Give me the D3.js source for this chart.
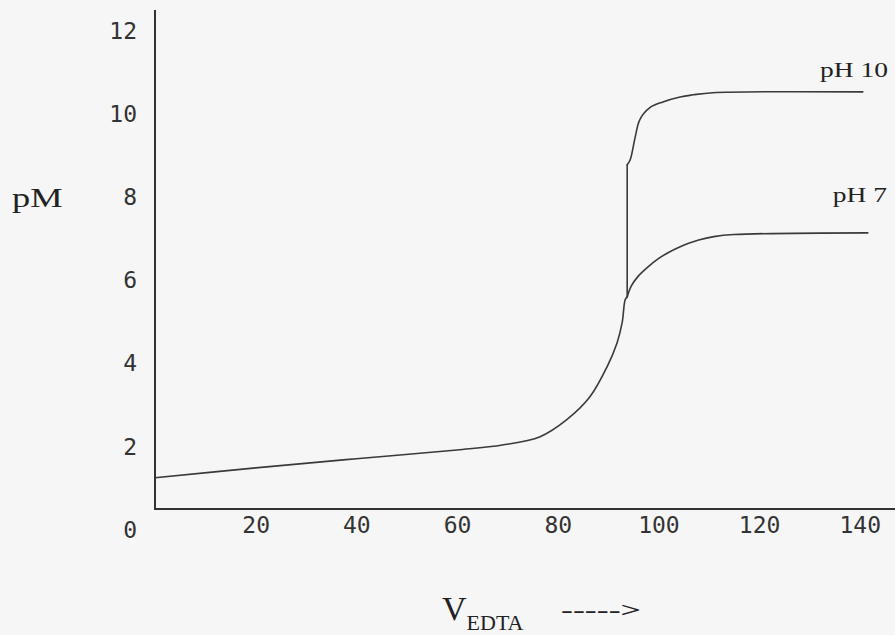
<!DOCTYPE html>
<html>
<head>
<meta charset="utf-8">
<script src="https://cdn.jsdelivr.net/npm/d3@7"></script>
<style>
  body { margin: 0; background: #f6f6f6; }
  svg { display: block; }
</style>
</head>
<body>
<div id="chart"></div>
<script>
const width = 895;
const height = 635;

// Titration curve data (V_EDTA, pM)
const vCommon = [0, 20, 40, 60, 69, 76.5, 81.8, 86.4, 89.8, 91.8, 92.8, 93.4, 93.8];
const pmCommon = [1.25, 1.49, 1.71, 1.92, 2.04, 2.24, 2.65, 3.2, 3.92, 4.5, 4.98, 5.53, 5.6];

// Jump at the equivalence point (pH 10 only)
const vJump = [93.8, 93.8];
const pmJump = [5.6, 8.78];

const vPh10 = [93.8, 94.4, 95.4, 96.3, 98.3, 100.9, 104.3, 106.9, 110.8, 140.6];
const pmPh10 = [8.78, 8.9, 9.45, 9.86, 10.15, 10.29, 10.41, 10.46, 10.51, 10.53];

const vPh7 = [93.8, 94.6, 96, 98, 100, 102, 104, 106, 108, 111, 115, 141.6];
const pmPh7 = [5.6, 5.86, 6.1, 6.33, 6.52, 6.67, 6.79, 6.89, 6.97, 7.05, 7.1, 7.14];

const xTicks = [20, 40, 60, 80, 100, 120, 140];
const yTicks = [0, 2, 4, 6, 8, 10, 12];

const axisLeftX = 155;   // y axis position
const axisBottomY = 509; // x axis position

const svg = d3.select("#chart")
    .append("svg")
    .attr("width", width)
    .attr("height", height);

svg.append("rect")
    .attr("width", width)
    .attr("height", height)
    .attr("fill", "#f6f6f6");

const xScale = d3.scaleLinear()
    .domain([0, 147])
    .range([axisLeftX, width]);

const yScale = d3.scaleLinear()
    .domain([0.5, 12.5])
    .range([axisBottomY, 10]);

// Building the point lists for each piece of the curves
const toPoints = (vs, pms) => vs.map((v, i) => [v, pms[i]]);
const pieces = [
    toPoints(vCommon, pmCommon),
    toPoints(vJump, pmJump),
    toPoints(vPh10, pmPh10),
    toPoints(vPh7, pmPh7)
];

const line = d3.line()
    .x(d => xScale(d[0]))
    .y(d => yScale(d[1]))
    .curve(d3.curveCatmullRom.alpha(0.5));

svg.selectAll("path.curve")
    .data(pieces)
    .enter()
    .append("path")
    .attr("class", "curve")
    .attr("d", line)
    .attr("fill", "none")
    .attr("stroke", "#3a3a3a")
    .attr("stroke-width", 1.6)
    .attr("stroke-linecap", "round");

// Axes
const xAxis = svg.append("g")
    .attr("transform", `translate(0, ${axisBottomY})`)
    .call(d3.axisBottom(xScale).tickValues(xTicks).tickSize(0).tickPadding(8));

const yAxis = svg.append("g")
    .attr("transform", `translate(${axisLeftX}, 0)`)
    .call(d3.axisLeft(yScale).tickValues(yTicks).tickSize(0).tickPadding(18));

[xAxis, yAxis].forEach(g => {
    g.select(".domain").remove();
    g.selectAll("text")
        .style("font-family", "'DejaVu Sans Mono', monospace")
        .style("font-size", "23px")
        .attr("fill", "#333");
});

// Axis lines
svg.append("line")
    .attr("x1", axisLeftX).attr("x2", axisLeftX)
    .attr("y1", 10).attr("y2", axisBottomY + 1)
    .attr("stroke", "#333").attr("stroke-width", 2);

svg.append("line")
    .attr("x1", axisLeftX).attr("x2", width)
    .attr("y1", axisBottomY).attr("y2", axisBottomY)
    .attr("stroke", "#333").attr("stroke-width", 2);

// Labels
const serif = "'Liberation Serif', 'Times New Roman', serif";

svg.append("text")
    .attr("transform", "translate(12, 207) scale(1.3, 1)")
    .style("font-family", serif)
    .style("font-size", "28px")
    .attr("fill", "#222")
    .text("pM");

svg.append("text")
    .attr("transform", "translate(888, 77) scale(1.25, 1)")
    .attr("text-anchor", "end")
    .style("font-family", serif)
    .style("font-size", "22px")
    .attr("fill", "#222")
    .text("pH 10");

svg.append("text")
    .attr("transform", "translate(887, 202) scale(1.25, 1)")
    .attr("text-anchor", "end")
    .style("font-family", serif)
    .style("font-size", "22px")
    .attr("fill", "#222")
    .text("pH 7");

const vLabel = svg.append("text")
    .attr("x", 442)
    .attr("y", 620)
    .style("font-family", serif)
    .style("font-size", "34px")
    .attr("fill", "#222");

vLabel.append("tspan").text("V");
vLabel.append("tspan")
    .attr("y", 630)
    .style("font-size", "22px")
    .text("EDTA");

svg.append("text")
    .attr("x", 561)
    .attr("y", 617)
    .attr("textLength", 80)
    .attr("lengthAdjust", "spacingAndGlyphs")
    .style("font-family", serif)
    .style("font-size", "20px")
    .style("font-weight", "bold")
    .attr("fill", "#222")
    .text("----->");
</script>
</body>
</html>
